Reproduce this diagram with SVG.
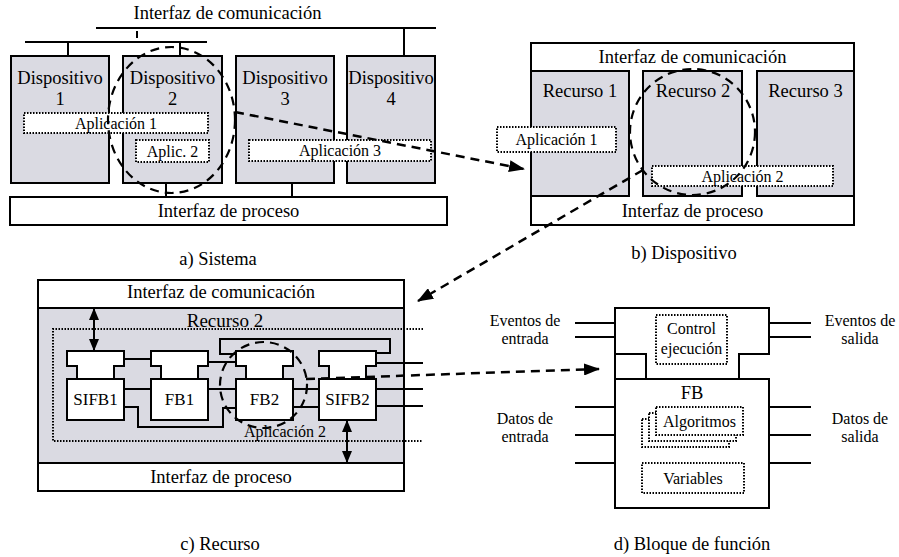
<svg xmlns="http://www.w3.org/2000/svg" width="899" height="557" viewBox="0 0 899 557">
  <style>
    .t { font-family: "Liberation Serif", "Times New Roman", serif; font-size: 18.5px; text-anchor: middle; fill: #000; }
    .s { font-size: 16px; }
    .f { font-size: 17px; }
    .box { fill: #fff; stroke: #000; stroke-width: 2; }
    .gray { fill: #dadae2; stroke: #000; stroke-width: 2; }
    .dot { fill: #fff; stroke: #000; stroke-width: 2; stroke-dasharray: 1.5 1.5; }
    .dotn { fill: none; stroke: #000; stroke-width: 2; stroke-dasharray: 1.5 1.5; }
    .ln { fill: none; stroke: #000; stroke-width: 2; }
    .dash { fill: none; stroke: #000; stroke-width: 2.5; stroke-dasharray: 9 6; }
  </style>
  <defs>
    <marker id="ah" viewBox="0 0 16 12" refX="15" refY="6" markerWidth="16" markerHeight="12" markerUnits="userSpaceOnUse" orient="auto">
      <path d="M0,0 L16,6 L0,12 z" fill="#000"/>
    </marker>
    <marker id="ahs" viewBox="0 0 12 10" refX="11" refY="5" markerWidth="12" markerHeight="10" markerUnits="userSpaceOnUse" orient="auto-start-reverse">
      <path d="M0,0 L12,5 L0,10 z" fill="#000"/>
    </marker>
    <!-- function block outline: event head, neck, body -->
    <path id="fbhead" d="M0,0 H57 V15 H47 V28 H10 V15 H0 Z"/>
  </defs>

  <rect width="899" height="557" fill="#fff"/>

  <!-- ===== a) Sistema ===== -->
  <g id="sistema">
    <text class="t" x="227.5" y="19">Interfaz de comunicación</text>
    <g id="bus-a">
      <line class="ln" x1="96" y1="28" x2="436" y2="28"/>
      <line class="ln" x1="137" y1="31" x2="137" y2="38"/>
      <line class="ln" x1="25" y1="42" x2="207" y2="42"/>
      <line class="ln" x1="68" y1="42" x2="68" y2="56"/>
      <line class="ln" x1="180" y1="42" x2="180" y2="56"/>
      <line class="ln" x1="404" y1="28" x2="404" y2="56"/>
      <line class="ln" x1="166" y1="183" x2="166" y2="197"/>
      <line class="ln" x1="292" y1="183" x2="292" y2="197"/>
    </g>
    <g id="dispositivo-1">
      <rect class="gray" x="11" y="56" width="98" height="127"/>
      <text class="t" x="60" y="84">Dispositivo</text>
      <text class="t" x="60" y="105">1</text>
    </g>
    <g id="dispositivo-2">
      <rect class="gray" x="123" y="56" width="99" height="127"/>
      <text class="t" x="172.5" y="84">Dispositivo</text>
      <text class="t" x="172.5" y="105">2</text>
    </g>
    <g id="dispositivo-3">
      <rect class="gray" x="236" y="56" width="98" height="127"/>
      <text class="t" x="285" y="84">Dispositivo</text>
      <text class="t" x="285" y="105">3</text>
    </g>
    <g id="dispositivo-4">
      <rect class="gray" x="347" y="56" width="88" height="127"/>
      <text class="t" x="391" y="84">Dispositivo</text>
      <text class="t" x="391" y="105">4</text>
    </g>
    <g id="aplicacion-1-a">
      <rect class="dot" x="24" y="113" width="184" height="20"/>
      <text class="t s" x="116" y="129">Aplicación 1</text>
    </g>
    <g id="aplicacion-2-a">
      <rect class="dot" x="136" y="140" width="73" height="22"/>
      <text class="t s" x="172.5" y="157">Aplic. 2</text>
    </g>
    <g id="aplicacion-3-a">
      <rect class="dot" x="249" y="140" width="182" height="21"/>
      <text class="t s" x="340" y="156">Aplicación 3</text>
    </g>
    <g id="proceso-a">
      <rect class="box" x="10" y="197" width="437" height="28"/>
      <text class="t" x="228.5" y="217">Interfaz de proceso</text>
    </g>
    <text class="t" x="218" y="265">a) Sistema</text>
  </g>

  <!-- ===== b) Dispositivo ===== -->
  <g id="dispositivo">
    <rect class="box" x="531" y="43" width="323" height="182"/>
    <text class="t" x="692.5" y="63">Interfaz de comunicación</text>
    <g id="recurso-1-b">
      <rect class="gray" x="531" y="71" width="98" height="125"/>
      <text class="t" x="580" y="97">Recurso 1</text>
    </g>
    <g id="recurso-2-b">
      <rect class="gray" x="643" y="71" width="99" height="125"/>
      <text class="t" x="693" y="97">Recurso 2</text>
    </g>
    <g id="recurso-3-b">
      <rect class="gray" x="757" y="71" width="97" height="125"/>
      <text class="t" x="805.5" y="97">Recurso 3</text>
    </g>
    <g id="aplicacion-1-b">
      <rect class="dot" x="497" y="127" width="119" height="25"/>
      <text class="t s" x="556.5" y="145">Aplicación 1</text>
    </g>
    <g id="aplicacion-2-b">
      <rect class="dot" x="652" y="166" width="181" height="20"/>
      <text class="t s" x="742.5" y="182">Aplicación 2</text>
    </g>
    <text class="t" x="692.5" y="217">Interfaz de proceso</text>
    <text class="t" x="684" y="259">b) Dispositivo</text>
  </g>

  <!-- ===== c) Recurso ===== -->
  <g id="recurso">
    <rect class="box" x="38" y="280" width="366" height="211"/>
    <rect class="gray" x="38" y="308" width="366" height="155"/>
    <text class="t" x="221" y="298">Interfaz de comunicación</text>
    <text class="t" x="221" y="483">Interfaz de proceso</text>
    <g id="recurso-2-c">
      <path class="dotn" d="M423,329 H53 V441 H423"/>
      <text class="t" x="225" y="327" style="font-size:19px">Recurso 2</text>
      <text class="t s" x="285" y="437">Aplicación 2</text>
    </g>
    <g id="sifb1">
      <use href="#fbhead" x="67" y="351" class="box"/>
      <rect class="box" x="67" y="379" width="57" height="41"/>
      <text class="t f" x="95.5" y="405">SIFB1</text>
    </g>
    <g id="fb1">
      <use href="#fbhead" x="151" y="351" class="box"/>
      <rect class="box" x="151" y="379" width="57" height="41"/>
      <text class="t f" x="179.5" y="405">FB1</text>
    </g>
    <g id="fb2">
      <use href="#fbhead" x="236" y="351" class="box"/>
      <rect class="box" x="236" y="379" width="57" height="41"/>
      <text class="t f" x="264.5" y="405">FB2</text>
    </g>
    <g id="sifb2">
      <use href="#fbhead" x="319" y="351" class="box"/>
      <rect class="box" x="319" y="379" width="57" height="41"/>
      <text class="t f" x="347.5" y="405">SIFB2</text>
    </g>
    <text class="t" x="220" y="550">c) Recurso</text>
  </g>

  <!-- ===== d) Bloque de función ===== -->
  <g id="bloque-funcion">
    <path class="box" d="M615,379 V308 H769 V354 H739 V379 M646,379 V354 H615"/>
    <rect class="box" x="615" y="379" width="154" height="129"/>
    <g id="control-ejecucion">
      <rect class="dot" x="656" y="315" width="71" height="49"/>
      <text class="t s" x="691.5" y="334">Control</text>
      <text class="t s" x="691.5" y="354">ejecución</text>
    </g>
    <text class="t" x="692" y="399">FB</text>
    <g id="algoritmos">
      <rect class="dot" x="642" y="419" width="87" height="28"/>
      <rect class="dot" x="649" y="413" width="87" height="28"/>
      <rect class="dot" x="656" y="407" width="87" height="28"/>
      <text class="t s" x="699.5" y="427">Algoritmos</text>
    </g>
    <g id="variables">
      <rect class="dot" x="642" y="463" width="102" height="30"/>
      <text class="t s" x="693" y="484">Variables</text>
    </g>
    <g id="puertos">
      <line class="ln" x1="575" y1="323" x2="615" y2="323"/>
      <line class="ln" x1="575" y1="337" x2="615" y2="337"/>
      <line class="ln" x1="575" y1="407" x2="615" y2="407"/>
      <line class="ln" x1="575" y1="435" x2="615" y2="435"/>
      <line class="ln" x1="575" y1="463" x2="615" y2="463"/>
      <line class="ln" x1="769" y1="323" x2="811" y2="323"/>
      <line class="ln" x1="769" y1="337" x2="811" y2="337"/>
      <line class="ln" x1="769" y1="407" x2="811" y2="407"/>
      <line class="ln" x1="769" y1="435" x2="811" y2="435"/>
      <line class="ln" x1="769" y1="463" x2="811" y2="463"/>
    </g>
    <text class="t s" x="525" y="326">Eventos de</text>
    <text class="t s" x="525" y="344">entrada</text>
    <text class="t s" x="525" y="424">Datos de</text>
    <text class="t s" x="525" y="442">entrada</text>
    <text class="t s" x="860" y="326">Eventos de</text>
    <text class="t s" x="860" y="344">salida</text>
    <text class="t s" x="860" y="424">Datos de</text>
    <text class="t s" x="860" y="442">salida</text>
    <text class="t" x="692" y="550">d) Bloque de función</text>
  </g>

  <!-- ===== connectors ===== -->
  <g id="connectors">
    <!-- function block wiring inside the resource -->
    <line class="ln" x1="124" y1="359" x2="151" y2="359"/>
    <line class="ln" x1="208" y1="362" x2="236" y2="362"/>
    <path class="ln" d="M236,354 H220 V339 H390 V353 H376"/>
    <line class="ln" x1="376" y1="363" x2="423" y2="363"/>
    <line class="ln" x1="124" y1="389" x2="151" y2="389"/>
    <line class="ln" x1="208" y1="389" x2="236" y2="389"/>
    <path class="ln" d="M124,407 H138 V427 H223 V408 H236"/>
    <line class="ln" x1="293" y1="389" x2="319" y2="389"/>
    <line class="ln" x1="293" y1="407" x2="319" y2="407"/>
    <line class="ln" x1="376" y1="389" x2="423" y2="389"/>
    <line class="ln" x1="376" y1="406" x2="423" y2="406"/>
    <!-- interface links -->
    <line class="ln" x1="94" y1="309" x2="94" y2="350" marker-start="url(#ahs)" marker-end="url(#ahs)"/>
    <line class="ln" x1="347" y1="421" x2="347" y2="462" marker-start="url(#ahs)" marker-end="url(#ahs)"/>
    <!-- zoom outlines and their links -->
    <ellipse class="dash" cx="171.5" cy="120" rx="63.5" ry="73" style="stroke-width:2.2"/>
    <ellipse class="dash" cx="692.5" cy="132" rx="62.5" ry="63" style="stroke-width:2.2"/>
    <ellipse class="dash" cx="263.5" cy="385" rx="43.5" ry="43" style="stroke-width:2.2"/>
    <line class="dash" x1="235" y1="112" x2="524" y2="169" marker-end="url(#ah)"/>
    <line class="dash" x1="643" y1="170" x2="418" y2="301" marker-end="url(#ah)"/>
    <line class="dash" x1="306" y1="379" x2="599" y2="369" marker-end="url(#ah)"/>
  </g>
</svg>
